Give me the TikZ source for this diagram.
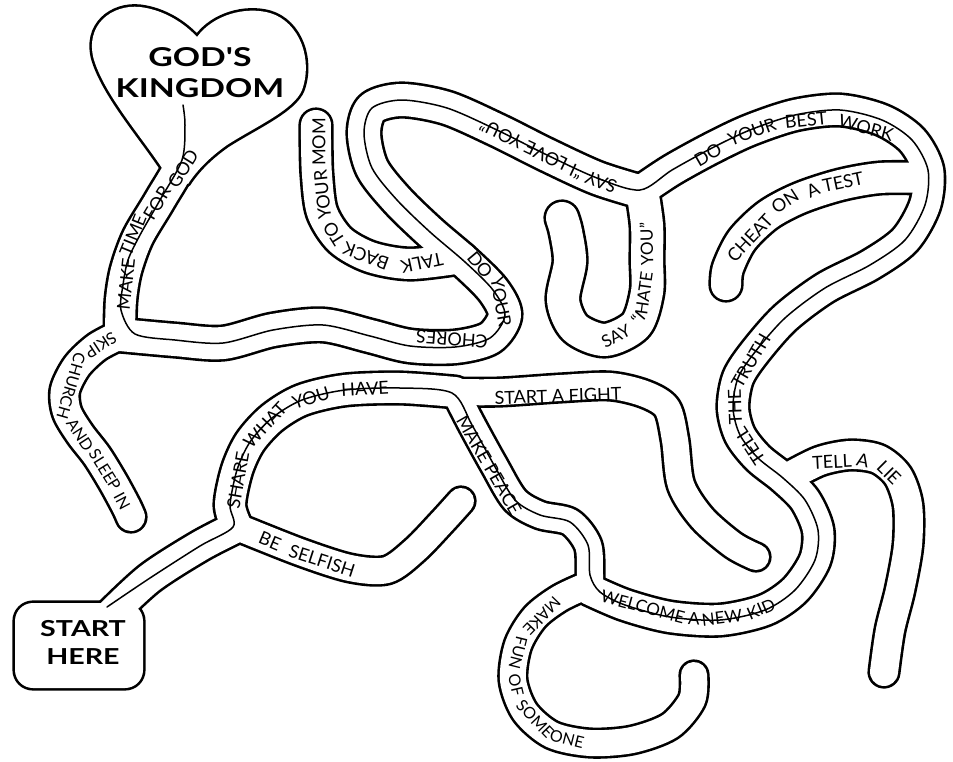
\documentclass[tikz,border=0pt]{standalone}
\usepackage{fontspec}
\setmainfont{Lato}
\newfontfamily\titlefont{Lato}[FakeStretch=1.3]
\newcommand\lf{\fontsize{18}{18}\selectfont}
\newcommand\lfm{\fontsize{17}{17}\selectfont}
\newcommand\lfs{\fontsize{16}{16}\selectfont}
\tikzset{
 blk/.style={draw=black, line width=#1, line cap=round, line join=round},
 wht/.style={draw=white, line width=#1, line cap=round, line join=round},
 trace/.style={draw=black, line width=1.5pt, line cap=round, line join=round},
 ttl/.style={font=\titlefont\bfseries\fontsize{26}{31}\selectfont, align=center, inner sep=0pt},
 wd/.style={font=\lf, inner sep=0pt, rotate=#1},
 wdm/.style={font=\lfm, inner sep=0pt, rotate=#1},
 wds/.style={font=\lfs, inner sep=0pt, rotate=#1},
}
\def\pHeart{(162,168) .. controls (140,135) and (105,95) .. (94,60) .. controls (84,25) and (112,4) .. (140,7) .. controls (165,10) and (185,24) .. (197,37) .. controls (213,15) and (245,6) .. (270,13) .. controls (300,22) and (313,60) .. (302,90) .. controls (294,110) and (255,127) .. (227,145) .. controls (210,157) and (197,170) .. (188,184) -- cycle}
\def\pBox{[rounded corners=18pt] (15,603) rectangle (143,688)}
\def\pGod{plot[smooth] coordinates {(185,120) (182,160) (160,200) (138,237) (126,270) (121,300) (120,335)}}
\def\pSkip{plot[smooth] coordinates {(120,335) (97,347) (77,366) (65,390) (67,412) (80,434) (97,456) (113,482) (126,506) (131,517)}}
\def\pStart{plot[smooth] coordinates {(110,615) (150,578) (200,546) (237,527)}}
\def\pShare{plot[smooth] coordinates {(237,527) (230,505) (237,470) (250,442) (272,418) (302,400) (345,390) (400,388) (455,392)}}
\def\pSelf{plot[smooth] coordinates {(237,527) (300,552) (350,568) (387,570) (415,550) (442,522) (461,501)}}
\def\pFight{plot[smooth] coordinates {(455,392) (500,392) (560,388) (610,386) (645,394) (667,408) (675,440) (681,485) (702,518) (733,545) (756,557)}}
\def\pPeace{plot[smooth] coordinates {(455,392) (472,425) (494,465) (515,500) (540,515) (570,522) (588,545) (590,575) (590,590)}}
\def\pFun{plot[smooth] coordinates {(588,585) (560,598) (535,617) (518,645) (513,680) (525,712) (552,735) (590,743) (632,740) (670,726) (692,700) (694,675)}}
\def\pRing{plot[smooth] coordinates {(590,590) (625,605) (670,617) (720,620) (765,610) (795,590) (815,560) (818,530) (805,500) (783,478) (758,458) (740,435) (733,408) (738,378) (755,352) (785,318) (825,288) (870,265) (905,240) (925,205) (928,170) (912,140) (882,120) (840,110) (795,115) (750,130) (712,148) (672,170) (642,190)}}
\def\pLie{plot[smooth] coordinates {(790,476) (820,461) (850,455) (878,459) (898,476) (908,505) (908,545) (900,590) (890,630) (884,672)}}
\def\pCheat{plot[smooth] coordinates {(925,178) (880,178) (840,185) (800,198) (768,215) (742,240) (728,268) (726,285)}}
\def\pHate{plot[smooth] coordinates {(642,190) (647,225) (647,260) (647,292) (636,325) (605,340) (575,328) (563,300) (570,262) (566,232) (562,218)}}
\def\pLoop{plot[smooth] coordinates {(642,192) (597,178) (547,155) (497,130) (447,108) (402,100) (372,108) (364,133) (372,168) (397,200) (430,232) (465,262) (493,290) (505,315) (490,338) (455,347) (410,346) (370,336) (323,325) (273,330) (223,343) (175,340) (120,335)}}
\def\pTalk{plot[smooth] coordinates {(462,258) (410,264) (370,257) (340,240) (322,212) (317,175) (316,140) (316,125)}}
\begin{document}
\begin{tikzpicture}[x=1pt,y=-1pt]
\fill[white] (0,0) rectangle (953,761);
\useasboundingbox (0,0) rectangle (953,761);
% black layer
\draw[black, line width=5.2pt, line join=round] \pHeart;
\draw[black, line width=5.2pt] \pBox;
\draw[blk=35.2pt] \pGod;
\draw[blk=33.2pt] \pSkip;
\draw[blk=35.2pt] \pStart;
\draw[blk=35.2pt] \pShare;
\draw[blk=31.2pt] \pSelf;
\draw[blk=31.2pt] \pFight;
\draw[blk=31.2pt] \pPeace;
\draw[blk=31.2pt] \pFun;
\draw[blk=35.2pt] \pRing;
\draw[blk=33.2pt] \pLie;
\draw[blk=35.2pt] \pCheat;
\draw[blk=37.2pt] \pHate;
\draw[blk=37.2pt] \pLoop;
\draw[blk=35.2pt] \pTalk;
% white layer
\fill[white] \pHeart;
\fill[white] \pBox;
\draw[wht=30pt] \pGod;
\draw[wht=28pt] \pSkip;
\draw[wht=30pt] \pStart;
\draw[wht=30pt] \pShare;
\draw[wht=26pt] \pSelf;
\draw[wht=26pt] \pFight;
\draw[wht=26pt] \pPeace;
\draw[wht=26pt] \pFun;
\draw[wht=30pt] \pRing;
\draw[wht=28pt] \pLie;
\draw[wht=30pt] \pCheat;
\draw[wht=32pt] \pHate;
\draw[wht=32pt] \pLoop;
\draw[wht=30pt] \pTalk;
% solution trace
\draw[trace] plot[smooth] coordinates {(107,607) (150,578) (200,546) (233,527) (230,505) (237,470) (250,442) (272,418) (302,400) (345,390) (400,388) (452,393) (472,425) (494,465) (515,500) (540,515) (570,522) (588,545) (590,575) (600,592) (625,605) (670,617) (720,620) (765,610) (795,590) (815,560) (818,530) (805,500) (783,478) (758,458) (740,435) (733,408) (738,378) (755,352) (785,318) (825,288) (870,265) (905,240) (925,205) (928,170) (912,140) (882,120) (840,110) (795,115) (750,130) (712,148) (672,170) (640,190) (597,178) (547,155) (497,130) (447,108) (402,100) (372,108) (364,133) (372,168) (397,200) (430,232) (465,262) (493,290) (505,315) (490,338) (455,347) (410,346) (370,336) (323,325) (273,330) (223,343) (175,340) (135,334) (121,310) (123,285) (128,260) (140,235) (160,200) (182,160) (185,125) (183,105)};
% titles
\node[ttl] (kingdom) at (200,73) {GOD'S\\KINGDOM};
\node[ttl, font=\titlefont\bfseries\fontsize{22}{28}\selectfont] (start) at (83,642) {START\\HERE};
% MAKE TIME FOR GOD
\node[wd=84] (g1) at (126,284) {MAKE};
\node[wd=68] (g2) at (133,235) {TIME};
\node[wd=59] (g3) at (157,203) {FOR};
\node[wd=58] (g4) at (183,169) {GOD};
% SKIP CHURCH AND SLEEP IN
\node[wds=-147] (k1) at (101,345) {SKIP};
\node[wds=-106] (k2) at (71,386) {CHURCH};
\node[wds=-57] (k3) at (80,435) {AND};
\node[wds=-58] (k4) at (105,470) {SLEEP};
\node[wds=-62] (k5) at (122,501) {IN};
% SHARE WHAT YOU HAVE
\node[wd=80] (s1) at (238,480) {SHARE};
\node[wd=47] (s2) at (265,425) {WHAT};
\node[wd=17] (s3) at (311,398) {YOU};
\node[wd=3] (s4) at (365,389) {HAVE};
% BE SELFISH
\node[wd=-23] (b1) at (270,541) {BE};
\node[wd=-18] (b2) at (322,561) {SELFISH};
% START A FIGHT
\node[wd=2] (f1) at (558,396) {START A FIGHT};
% MAKE PEACE
\node[wd=-60] (p1) at (489,465) {MAKE PEACE};
% WELCOME A NEW KID
\node[wdm=-15] (n1) at (643,607) {WELCOME};
\node[wdm=-3] (n2) at (694,619) {A};
\node[wdm=7] (n3) at (722,618) {NEW};
\node[wdm=23] (n4) at (761,609) {KID};
% MAKE FUN OF SOMEONE
\node[wds=-134] (m1) at (542,616) {MAKE};
\node[wds=-104] (m2) at (518,653) {FUN};
\node[wds=-77] (m3) at (516,685) {OF};
\node[wds=-46] (m4) at (535,719) {SOME};
\node[wds=-14] (m5) at (567,739) {ONE};
% TELL THE TRUTH
\node[wd=123] (t1) at (750,446) {TELL};
\node[wd=92] (t2) at (735,407) {THE};
\node[wd=60] (t3) at (751,361) {TRUTH};
% TELL A LIE
\node[wd=3] (l1) at (832,462) {TELL};
\node[wd=-12] (l2) at (863,460) {A};
\node[wd=-45] (l3) at (889,473) {LIE};
% CHEAT ON A TEST
\node[wd=47] (c1) at (750,238) {CHEAT};
\node[wd=33] (c2) at (785,201) {ON};
\node[wd=24] (c3) at (813,190) {A};
\node[wd=12] (c4) at (843,182) {TEST};
% DO YOUR BEST WORK
\node[wd=30] (d1) at (708,155) {DO};
\node[wd=20] (d2) at (752,132) {YOUR};
\node[wd=6] (d3) at (806,120) {BEST};
\node[wd=-15] (d4) at (866,128) {WORK};
% SAY "I HATE YOU"
\node[wdm=27] (h1) at (616,336) {SAY};
\node[wdm=50] (h2) at (638,318) {“I};
\node[wdm=82] (h3) at (644,293) {HATE};
\node[wdm=91] (h4) at (646.5,244) {YOU”};
% SAY "I LOVE YOU"
\node[wd=160] (v1) at (601,182) {SAY};
\node[wd=155] (v2) at (576,172) {“I};
\node[wd=154.5] (v3) at (546,156) {LOVE};
\node[wd=154] (v4) at (501,134) {YOU”};
% DO YOUR CHORES
\node[wd=-50] (r1) at (480,265) {DO};
\node[wd=-80] (r2) at (501,302) {YOUR};
\node[wd=176] (r3) at (452,339) {CHORES};
% TALK BACK TO YOUR MOM
\node[wd=192] (a1) at (422,263) {TALK};
\node[wd=160] (a2) at (366,256) {BACK};
\node[wd=122] (a3) at (334,234) {TO};
\node[wd=96] (a4) at (322.5,195) {YOUR};
\node[wd=90] (a5) at (319,142) {MOM};
\end{tikzpicture}
\end{document}
